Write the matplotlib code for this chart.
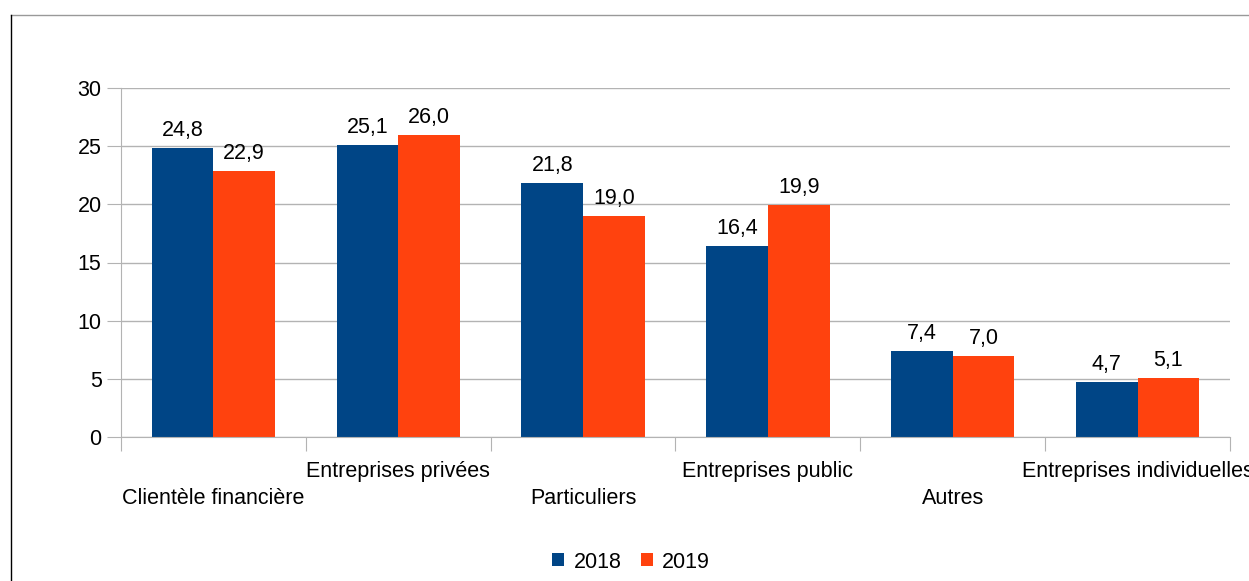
import matplotlib.pyplot as plt
import numpy as np
from matplotlib.lines import Line2D

plt.rcParams['font.family'] = ['Liberation Sans', 'DejaVu Sans']

categories = ['Clientèle financière', 'Entreprises privées', 'Particuliers',
              'Entreprises public', 'Autres', 'Entreprises individuelles']
v2018 = [24.8, 25.1, 21.8, 16.4, 7.4, 4.7]
v2019 = [22.9, 26.0, 19.0, 19.9, 7.0, 5.1]
yticks = [0, 5, 10, 15, 20, 25, 30]

c2018 = '#004586'
c2019 = '#ff420e'
grid = '#b3b3b3'
fs = 15.5

W, H = 1249, 581
fig = plt.figure(figsize=(W / 100, H / 100), dpi=100)
ax = fig.add_axes([121 / W, (H - 437) / H, (1230 - 121) / W, (437 - 88) / H])

x = np.arange(len(categories))
bw = 1 / 3
b1 = ax.bar(x - bw / 2, v2018, bw, color=c2018, label='2018', zorder=2)
b2 = ax.bar(x + bw / 2, v2019, bw, color=c2019, label='2019', zorder=2)

for bars in (b1, b2):
    for r in bars:
        ax.annotate(f'{r.get_height():.1f}'.replace('.', ','),
                    (r.get_x() + r.get_width() / 2, r.get_height()),
                    xytext=(0, 7), textcoords='offset pixels',
                    ha='center', va='bottom', fontsize=fs)

ax.set_xlim(-0.5, len(categories) - 0.5)
ax.set_ylim(0, 30)
ax.set_yticks(yticks)
ax.tick_params(axis='y', labelsize=fs, length=10, color=grid, pad=4)
ax.yaxis.grid(True, color=grid, linewidth=1, zorder=0)
ax.set_axisbelow(True)

ax.set_xticks(np.arange(len(categories) + 1) - 0.5)
ax.set_xticklabels([])
ax.tick_params(axis='x', length=10, color=grid)

for i, name in enumerate(categories):
    off = -62 if i % 2 == 0 else -35
    ax.annotate(name, (i, 0), xycoords=('data', 'axes fraction'),
                xytext=(0, off), textcoords='offset pixels',
                ha='center', va='center', fontsize=fs, annotation_clip=False)

for s in ['top', 'right']:
    ax.spines[s].set_visible(False)
ax.spines['left'].set_color(grid)
ax.spines['bottom'].set_color(grid)

ax.legend(loc='center', bbox_to_anchor=(631 / W, (H - 562) / H),
          bbox_transform=fig.transFigure, ncol=2, frameon=False,
          fontsize=fs, handlelength=0.55, handleheight=0.55,
          handletextpad=0.45, columnspacing=0.9)

fig.add_artist(Line2D([11 / W, 1], [(H - 15) / H] * 2, color='#999999',
                      linewidth=1, transform=fig.transFigure))
fig.add_artist(Line2D([11 / W] * 2, [0, (H - 15) / H], color='black',
                      linewidth=1, transform=fig.transFigure))

fig.savefig('out.png', dpi=100)
